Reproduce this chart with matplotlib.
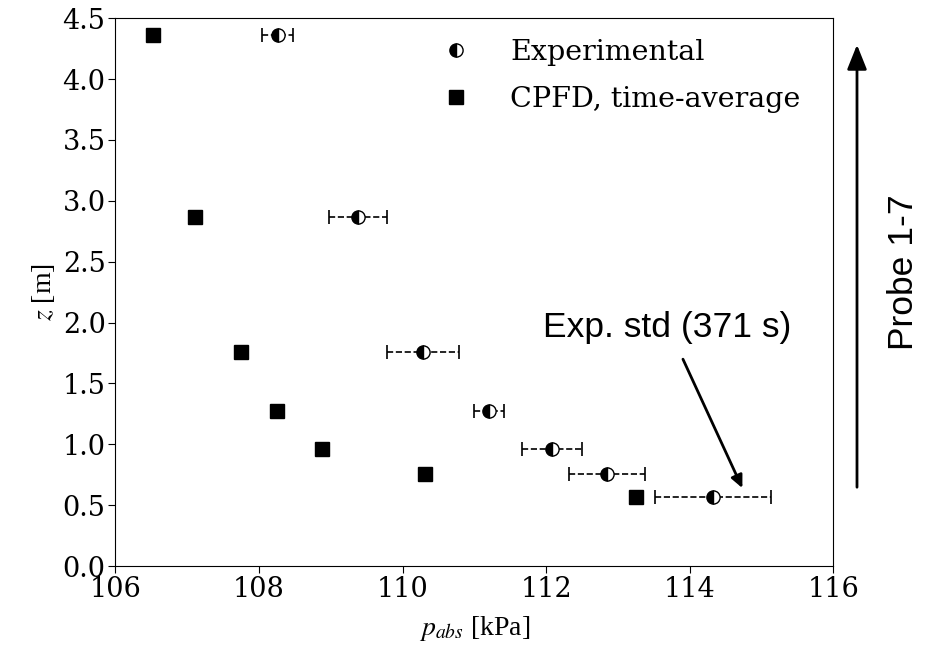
import matplotlib
matplotlib.use('Agg')
import matplotlib.pyplot as plt

# Values
z = [4.36, 2.87, 1.76, 1.27, 0.96, 0.76, 0.57]
p_exp = [108.26, 109.38, 110.28, 111.20, 112.08, 112.85, 114.32]
p_exp_std = [0.22, 0.40, 0.50, 0.21, 0.42, 0.53, 0.81]
p_cpfd = [106.52, 107.11, 107.75, 108.25, 108.88, 110.31, 113.25]

plt.rcParams['font.family'] = 'DejaVu Serif'
plt.rcParams['mathtext.fontset'] = 'stix'

fig = plt.figure(figsize=(9.3, 6.47), dpi=100)
ax = fig.add_axes([0.124, 0.125, 0.772, 0.847])

# error bars (dashed) for the experiment
eb = ax.errorbar(p_exp, z, xerr=p_exp_std, fmt='none', ecolor='black',
                 elinewidth=1.2, capsize=5, capthick=1.2)
eb[-1][0].set_linestyle('--')

ax.plot(p_exp, z, 'o', fillstyle='left', color='black', markerfacecoloralt='white',
        markeredgecolor='black', markersize=9.5, linestyle='none', label='Experimental')
ax.plot(p_cpfd, z, 's', color='black', markersize=10.5, linestyle='none',
        label='CPFD, time-average')

ax.set_xlim(106, 116)
ax.set_ylim(0, 4.5)
ax.set_xticks([106, 108, 110, 112, 114, 116])
ax.set_yticks([0.0, 0.5, 1.0, 1.5, 2.0, 2.5, 3.0, 3.5, 4.0, 4.5])
ax.set_yticklabels(['0.0', '0.5', '1.0', '1.5', '2.0', '2.5', '3.0', '3.5', '4.0', '4.5'])
ax.tick_params(labelsize=19.5, length=5, pad=2)

ax.set_xlabel(r'$p_{abs}$ [kPa]', fontsize=20, family='Liberation Serif', labelpad=8)
ax.set_ylabel(r'$z$ [m]', fontsize=20, family='Liberation Serif', labelpad=4)

ax.legend(loc='upper right', bbox_to_anchor=(1.0, 1.022), frameon=False, fontsize=20.5,
          handletextpad=0.9, borderaxespad=0.75, labelspacing=0.7)

# annotation arrow pointing to the error bar
ax.annotate('', xy=(114.75, 0.62), xytext=(113.89, 1.72),
            arrowprops=dict(arrowstyle='-|>,head_length=0.75,head_width=0.35',
                            color='black', lw=2))
ax.text(113.69, 1.88, 'Exp. std (371 s)', family='Liberation Sans', fontsize=25.5,
        ha='center', va='baseline')

# probe arrow at the right
fig.add_artist(matplotlib.patches.FancyArrowPatch(
    (857 / 930, 1 - 490 / 647), (857 / 930, 1 - 42 / 647), transform=fig.transFigure,
    arrowstyle='-|>,head_length=0.75,head_width=0.3', color='black', lw=2,
    mutation_scale=20))
fig.text(903 / 930, 1 - 272 / 647, 'Probe 1-7', family='Liberation Sans', fontsize=25.5,
         rotation=90, ha='center', va='center')

fig.savefig('out.png', dpi=100)
